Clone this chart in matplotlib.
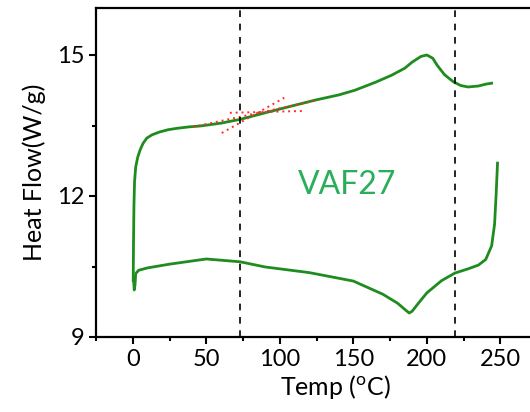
import matplotlib
matplotlib.use("Agg")
import matplotlib.pyplot as plt
from matplotlib.ticker import MultipleLocator

# upper branch
upper_temp = [0.3, 0.5, 0.8, 1.2, 2, 3.4, 5, 7, 9.5, 13, 18, 24, 30, 38, 46, 60, 68, 73,
              90, 110, 124, 140, 151, 165, 176, 185, 190, 196, 200, 204, 207, 212,
              218, 223, 228, 235, 240, 244]
upper_flow = [10.2, 11.0, 11.8, 12.3, 12.62, 12.83, 12.98, 13.12, 13.23, 13.3, 13.36,
              13.41, 13.44, 13.47, 13.49, 13.55, 13.6, 13.63, 13.77, 13.93, 14.04,
              14.15, 14.25, 14.42, 14.57, 14.72, 14.85, 14.97, 15.0, 14.93, 14.78,
              14.58, 14.43, 14.35, 14.32, 14.34, 14.38, 14.4]

# lower branch
lower_temp = [0.5, 1, 1.5, 2, 4, 10, 25, 50, 73, 90, 120, 150, 170, 180, 186, 188,
              190, 195, 200, 210, 219, 228, 235, 240, 244, 246, 247, 248]
lower_flow = [10.25, 10.0, 10.1, 10.35, 10.42, 10.47, 10.55, 10.66, 10.6, 10.49,
              10.37, 10.19, 9.91, 9.72, 9.56, 9.51, 9.55, 9.75, 9.94, 10.2, 10.36,
              10.45, 10.53, 10.65, 10.94, 11.4, 12.0, 12.7]

# tangent construction lines (x pairs, y pairs)
tangents = [
    ([41, 126], [13.47, 14.04]),
    ([66, 117], [13.77, 13.81]),
    ([60.5, 103], [13.34, 14.09]),
]

vlines = [73, 219]
xticks = [0, 50, 100, 150, 200, 250]
yticks = [9, 12, 15]
sample = "VAF27"

FONT = ["Lato", "DejaVu Sans"]
plt.rcParams["font.family"] = FONT

fig = plt.figure(figsize=(5.3, 4.12), dpi=100)
# axes reaches past the right edge: the reference is cropped there
ax = fig.add_axes([96 / 530, 1 - 337 / 412, (574 - 96) / 530, (337 - 8) / 412])

green = "#1e8c1e"
ax.plot(upper_temp, upper_flow, color=green, lw=2)
ax.plot(lower_temp, lower_flow, color=green, lw=2)
for xs, ys in tangents:
    ax.plot(xs, ys, color="#ff2a2a", lw=1.4, ls=(0, (1, 2)))
for v in vlines:
    ax.axvline(v, color="black", lw=1.2, ls=(0, (4, 4)))

ax.text(146, 12.23, sample, color="#2aae5c", fontsize=23, ha="center", va="center")

ax.set_xlim(-25, 300)
ax.set_ylim(9, 16)
ax.set_xticks(xticks)
ax.set_yticks(yticks)
ax.xaxis.set_minor_locator(MultipleLocator(25))
ax.yaxis.set_minor_locator(MultipleLocator(1.5))
ax.tick_params(which="both", direction="out", width=1.5, labelsize=17, colors="black")
ax.tick_params(which="major", length=5)
ax.tick_params(which="minor", length=3)
for s in ax.spines.values():
    s.set_linewidth(1.6)

ax.set_xlabel("Temp ($\\mathregular{^{o}}$C)", fontsize=18, labelpad=2)
ax.set_ylabel("Heat Flow(W/g)", fontsize=18, labelpad=8)

fig.savefig("out.png", dpi=100)
